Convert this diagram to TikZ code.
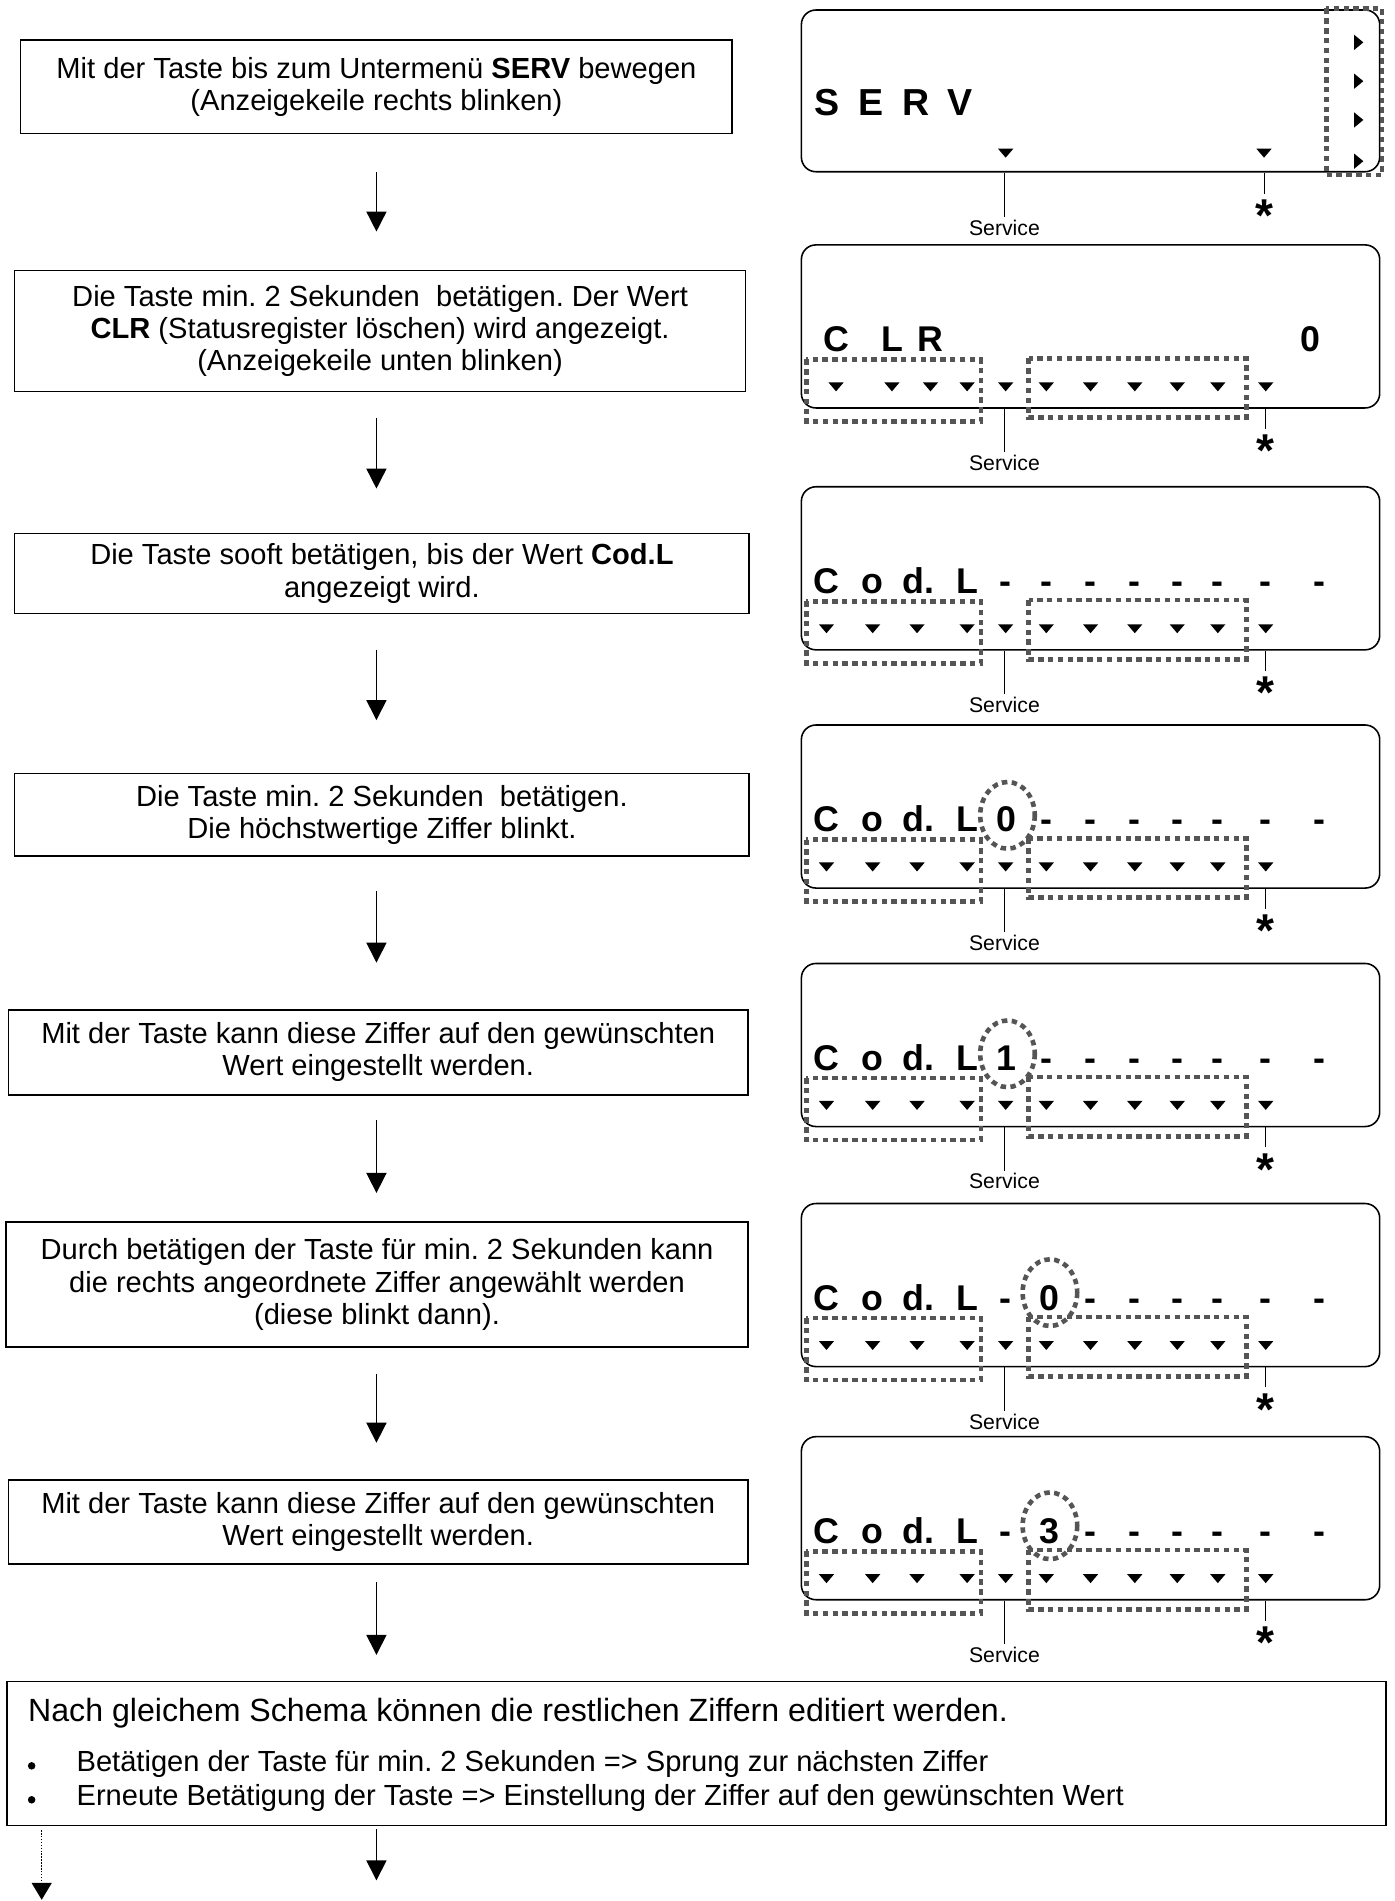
\documentclass[tikz,border=0pt]{standalone}
\usepackage{fontspec}
\setmainfont{Liberation Sans}
\usetikzlibrary{arrows.meta}
\definecolor{dotgray}{HTML}{555555}
\frenchspacing
\tikzset{
  stepbox/.style={draw, line width=1.4pt, inner sep=0pt, align=center, font=\fontsize{24}{26.5}\selectfont},
  lcdframe/.style={draw, line width=1.3pt, rounded corners=12pt, minimum width=477pt, minimum height=134.5pt, inner sep=0pt},
  dotbox/.style={draw=dotgray, line width=3.8pt, dash pattern=on 4.5pt off 3.6pt},
  flowarrow/.style={line width=1.3pt, -{Triangle[width=16.5pt,length=16.5pt]}},
  dotarrow/.style={line width=1.2pt, dash pattern=on 1.2pt off 1.2pt, -{Triangle[width=16.5pt,length=14pt]}},
  lcdchar/.style={anchor=base, inner sep=0pt, font=\fontsize{29.5}{29.5}\selectfont\bfseries},
  servchar/.style={anchor=base, inner sep=0pt, font=\fontsize{31}{31}\selectfont\bfseries},
  svclabel/.style={anchor=base, inner sep=0pt, font=\fontsize{17.5}{17.5}\selectfont},
  astlabel/.style={anchor=base, inner sep=0pt, font=\fontsize{38}{38}\selectfont\bfseries},
  pointer/.style={line width=1pt},
  bigtext/.style={anchor=base west, inner sep=0pt, font=\fontsize{26.5}{26.5}\selectfont},
  bultext/.style={anchor=base west, inner sep=0pt, font=\fontsize{24}{24}\selectfont},
  bulletdot/.style={circle, fill, inner sep=0pt, minimum size=6.2pt},
}
\newcommand\dtri[2]{\fill ({#1-6.3},{#2-3.6}) -- ({#1+6.3},{#2-3.6}) -- (#1,{#2+3.8}) -- cycle;}
\newcommand\rtri[2]{\fill ({#1-3.6},{#2-6.3}) -- ({#1-3.6},{#2+6.3}) -- ({#1+4},#2) -- cycle;}
\newcommand\lcdbase[1]{%
  \node[lcdframe] (#1) at (899.5,67.25) {};
  \node[svclabel] (#1svc) at (828.5,186) {Service};
  \node[astlabel] (#1ast) at (1044,183) {*};
  \draw[pointer] (#1.south -| #1svc) -- ([yshift=2pt]#1svc.north);
  \draw[pointer] (#1.south -| #1ast) -- ([yshift=5pt]#1ast.north);}
\newcommand\codtris{\foreach \xx in {681.7,719.8,756.4,797.7,829.5,863,899.5,936,971,1004.5,1044} {\dtri{\xx}{117}}}
\newcommand\lcdboxes{\draw[dotbox] (665,94.5) rectangle (809,145.7); \draw[dotbox] (848.5,93.5) rectangle (1028,142.5);}
\newcommand\lch[3]{\node[lcdchar] (#1) at (#2,88) {#3};}
\newcommand\codl[1]{\lch{#1c}{681.7}{C}\lch{#1o}{719.8}{o}\lch{#1d}{757.5}{d.}\lch{#1l}{797.7}{L}}
\begin{document}
\begin{tikzpicture}[x=1pt,y=-1pt]
\useasboundingbox (0,0) rectangle (1150,1568);

% ---------- left column steps ----------
\node[stepbox, minimum width=587pt, minimum height=77pt] (b1) at (310.5,71.5)
  {Mit der Taste bis zum Untermenü \textbf{SERV} bewegen\\(Anzeigekeile rechts blinken)};
\node[stepbox, minimum width=603pt, minimum height=100pt] (b2) at (313.5,273)
  {Die Taste min. 2 Sekunden~ betätigen. Der Wert\\\textbf{CLR} (Statusregister löschen) wird angezeigt.\\(Anzeigekeile unten blinken)};
\node[stepbox, minimum width=606pt, minimum height=66pt] (b3) at (315,473)
  {Die Taste sooft betätigen, bis der Wert \textbf{Cod.L}\\angezeigt wird.};
\node[stepbox, minimum width=606pt, minimum height=68pt] (b4) at (315,672)
  {Die Taste min. 2 Sekunden~ betätigen.\\Die höchstwertige Ziffer blinkt.};
\node[stepbox, minimum width=610pt, minimum height=70pt] (b5) at (312,868)
  {Mit der Taste kann diese Ziffer auf den gewünschten\\Wert eingestellt werden.};
\node[stepbox, minimum width=612pt, minimum height=103pt] (b6) at (311,1059.5)
  {Durch betätigen der Taste für min. 2 Sekunden kann\\die rechts angeordnete Ziffer angewählt werden\\(diese blinkt dann).};
\node[stepbox, minimum width=610pt, minimum height=69pt] (b7) at (312,1255.5)
  {Mit der Taste kann diese Ziffer auf den gewünschten\\Wert eingestellt werden.};

% bottom box
\node[draw, line width=1.4pt, inner sep=0pt, minimum width=1137pt, minimum height=118.6pt] (b8) at (574.5,1446.3) {};
\node[bigtext] (b8h) at (23,1420.3) {Nach gleichem Schema können die restlichen Ziffern editiert werden.};
\node[bulletdot] (bu1) at (26.1,1456.5) {};
\node[bultext] (b8a) at (63,1461.5) {Betätigen der Taste für min. 2 Sekunden => Sprung zur nächsten Ziffer};
\node[bulletdot] (bu2) at (26.1,1484.5) {};
\node[bultext] (b8b) at (63,1489) {Erneute Betätigung der Taste => Einstellung der Ziffer auf den gewünschten Wert};

% arrows
\coordinate (a1s) at (310.5,142);  \coordinate (a1e) at (310.5,191);
\coordinate (a2s) at (310.5,345);  \coordinate (a2e) at (310.5,403);
\coordinate (a3s) at (310.5,536);  \coordinate (a3e) at (310.5,594);
\coordinate (a4s) at (310.5,735);  \coordinate (a4e) at (310.5,794);
\coordinate (a5s) at (310.5,924);  \coordinate (a5e) at (310.5,984);
\coordinate (a6s) at (310.5,1133); \coordinate (a6e) at (310.5,1190);
\coordinate (a7s) at (310.5,1305); \coordinate (a7e) at (310.5,1365);
\coordinate (a8s) at (310.5,1509); \coordinate (a8e) at (310.5,1551);
\coordinate (a9s) at (34.4,1509.6); \coordinate (a9e) at (34.4,1567);
\foreach \i in {1,...,8} {\draw[flowarrow] (a\i s) -- (a\i e);}
\draw[dotarrow] (a9s) -- (a9e);

% ---------- displays ----------
% 1: SERV
\begin{scope}[shift={(0,8.25)}]
  \node[lcdframe, minimum height=133.4pt] (d1) at (899.5,66.7) {};
  \node[svclabel] (d1svc) at (828.5,186) {Service};
  \node[astlabel] (d1ast) at (1043,183) {*};
  \draw[pointer] (d1.south -| d1svc) -- ([yshift=2pt]d1svc.north);
  \draw[pointer] (d1.south -| d1ast) -- ([yshift=5pt]d1ast.north);
  \node[servchar] (d1s) at (682,87) {S};
  \node[servchar] (d1e) at (718.5,87) {E};
  \node[servchar] (d1r) at (755.5,87) {R};
  \node[servchar] (d1v) at (792,87) {V};
  \dtri{829.5}{118} \dtri{1042.6}{118}
  \foreach \yy in {26.7,58.7,90.7,124.7} {\rtri{1120.5}{\yy}}
  \draw[dotbox] (1094,-1.3) rectangle (1140,136.2);
\end{scope}

% 2: CLR
\begin{scope}[shift={(0,202)}]
  \lcdbase{d2}
  \lch{d2c}{689.6}{C}\lch{d2l}{735.7}{L}\lch{d2r}{767.5}{R}\lch{d2z}{1080.8}{0}
  \foreach \xx in {689.6,735.7,767.5,797.7,829.5,863,899.5,936,971,1004.5,1044} {\dtri{\xx}{117}}
  \lcdboxes
\end{scope}

% 3: Cod.L --------
\begin{scope}[shift={(0,401.5)}]
  \lcdbase{d3}
  \codl{d3}
  \lch{d3k5}{829.5}{-}\lch{d3k6}{863}{-}\lch{d3k7}{899.5}{-}\lch{d3k8}{936}{-}
  \lch{d3k9}{971}{-}\lch{d3k10}{1004.5}{-}\lch{d3k11}{1044}{-}\lch{d3k12}{1088.7}{-}
  \codtris
  \lcdboxes
\end{scope}

% 4: Cod.L 0-------
\begin{scope}[shift={(0,598)}]
  \lcdbase{d4}
  \codl{d4}
  \lch{d4k5}{830.5}{0}\lch{d4k6}{863}{-}\lch{d4k7}{899.5}{-}\lch{d4k8}{936}{-}
  \lch{d4k9}{971}{-}\lch{d4k10}{1004.5}{-}\lch{d4k11}{1044}{-}\lch{d4k12}{1088.7}{-}
  \codtris
  \lcdboxes
  \draw[dotbox] (831,74.5) ellipse [x radius=22.5, y radius=27.5];
\end{scope}

% 5: Cod.L 1-------
\begin{scope}[shift={(0,794.7)}]
  \lcdbase{d5}
  \codl{d5}
  \lch{d5k5}{830.5}{1}\lch{d5k6}{863}{-}\lch{d5k7}{899.5}{-}\lch{d5k8}{936}{-}
  \lch{d5k9}{971}{-}\lch{d5k10}{1004.5}{-}\lch{d5k11}{1044}{-}\lch{d5k12}{1088.7}{-}
  \codtris
  \lcdboxes
  \draw[dotbox] (831,74.5) ellipse [x radius=22.5, y radius=27.5];
\end{scope}

% 6: Cod.L -0------
\begin{scope}[shift={(0,992.7)}]
  \lcdbase{d6}
  \codl{d6}
  \lch{d6k5}{829.5}{-}\lch{d6k6}{866}{0}\lch{d6k7}{899.5}{-}\lch{d6k8}{936}{-}
  \lch{d6k9}{971}{-}\lch{d6k10}{1004.5}{-}\lch{d6k11}{1044}{-}\lch{d6k12}{1088.7}{-}
  \codtris
  \lcdboxes
  \draw[dotbox] (866,73.5) ellipse [x radius=22.5, y radius=27.5];
\end{scope}

% 7: Cod.L -3------
\begin{scope}[shift={(0,1185)}]
  \lcdbase{d7}
  \codl{d7}
  \lch{d7k5}{829.5}{-}\lch{d7k6}{866}{3}\lch{d7k7}{899.5}{-}\lch{d7k8}{936}{-}
  \lch{d7k9}{971}{-}\lch{d7k10}{1004.5}{-}\lch{d7k11}{1044}{-}\lch{d7k12}{1088.7}{-}
  \codtris
  \lcdboxes
  \draw[dotbox] (866,73.5) ellipse [x radius=22.5, y radius=27.5];
\end{scope}
\end{tikzpicture}
\end{document}
